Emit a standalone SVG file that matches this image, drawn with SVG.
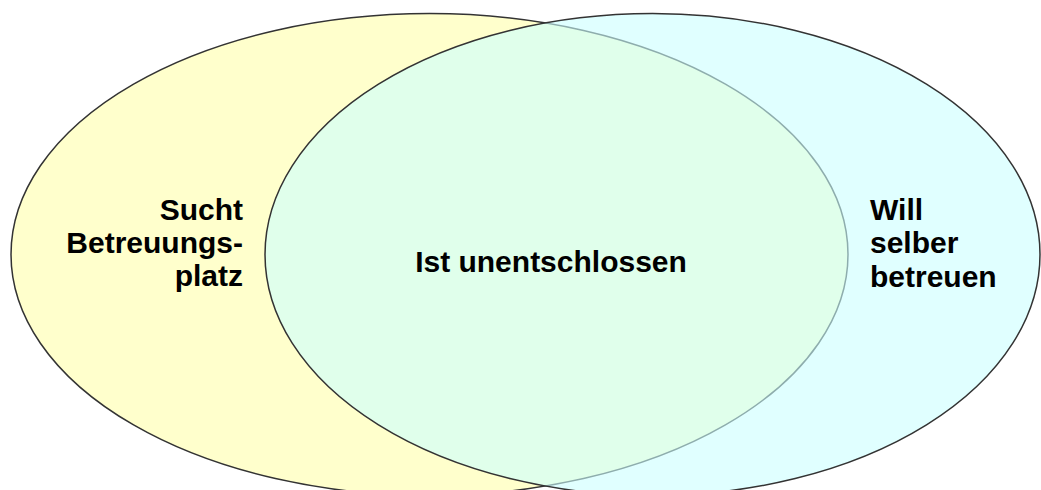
<svg xmlns="http://www.w3.org/2000/svg" width="1041" height="490" viewBox="0 0 1041 490">
<style>
.lbl{font-family:"Liberation Sans",Arial,sans-serif;font-size:30px;font-weight:bold;fill:#000}
</style>
<rect width="1041" height="490" fill="#fff"/>
<g id="set-left">
<ellipse cx="429.5" cy="254.5" rx="418.5" ry="241" fill="#FFFFCC" stroke="#333" stroke-width="1.5"/>
</g>
<g id="set-right">
<ellipse cx="652.5" cy="254.5" rx="387.5" ry="241" fill="#CCFFFF" fill-opacity="0.6" stroke="#333" stroke-width="1.5"/>
</g>
<g id="connectors"></g>
<g id="label-left">
<text class="lbl" text-anchor="end"><tspan x="243" y="220">Sucht</tspan><tspan x="243" y="253">Betreuungs-</tspan><tspan x="243" y="286">platz</tspan></text>
</g>
<g id="label-center">
<text class="lbl" x="551" y="272" text-anchor="middle">Ist unentschlossen</text>
</g>
<g id="label-right">
<text class="lbl"><tspan x="870" y="220">Will</tspan><tspan x="870" y="253">selber</tspan><tspan x="870" y="287">betreuen</tspan></text>
</g>
</svg>
